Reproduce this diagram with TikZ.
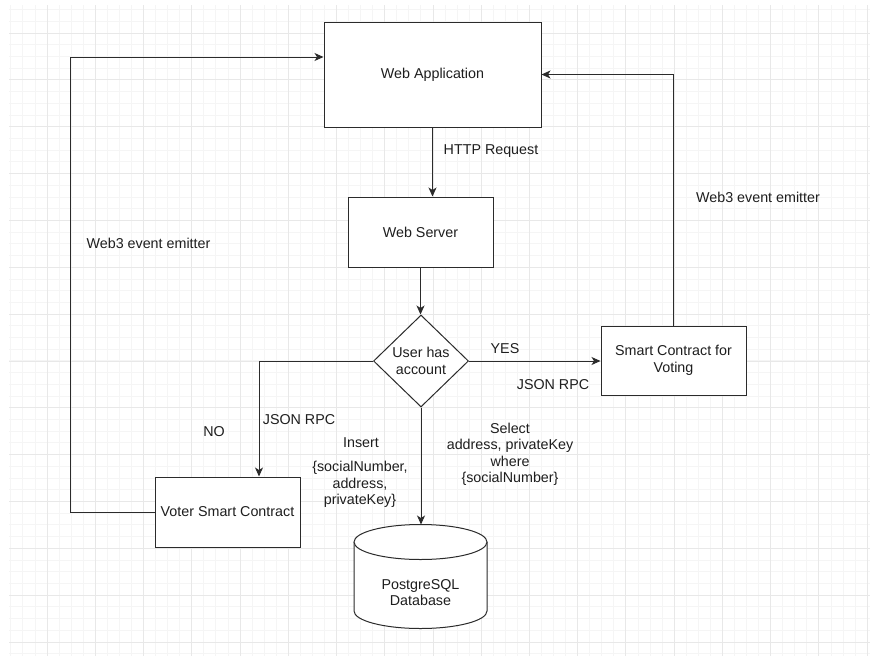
\documentclass[tikz,border=0pt]{standalone}
\usepackage{fontspec}
\setmainfont{Liberation Sans}
\usetikzlibrary{shapes.geometric,arrows.meta}
\definecolor{ln}{HTML}{2B2B2B}
\definecolor{tx}{HTML}{1E1E1E}
\definecolor{gmaj}{HTML}{E8E8E8}
\definecolor{gmin}{HTML}{F5F5F5}
\begin{document}
\begin{tikzpicture}[x=1pt,y=-1pt,
  every node/.style={font=\fontsize{14.3}{16.5}\selectfont, text=tx},
  box/.style={draw=ln, line width=1.0pt, fill=white, inner sep=0pt, align=center},
  dec/.style={diamond, draw=ln, line width=1.0pt, fill=white, inner sep=0pt, align=center, minimum width=95pt, minimum height=92pt},
  lbl/.style={inner sep=0pt, align=center},
  arr/.style={draw=ln, line width=1.0pt, -{Stealth[length=9pt,width=8pt,inset=2.5pt]}},
  minorgrid/.style={draw=gmin, line width=0.8pt},
  majorgrid/.style={draw=gmaj, line width=0.8pt}
]
\useasboundingbox (0,0) rectangle (870,656);
\fill[white] (0,0) rectangle (870,656);
% grid
\foreach \k in {-3,...,68}{\draw[minorgrid] ({47+12.06*\k},5) -- ({47+12.06*\k},656);}
\foreach \k in {-2,...,53}{\draw[minorgrid] (9,{33+11.71*\k}) -- (870,{33+11.71*\k});}
\foreach \k in {0,...,17}{\draw[majorgrid] ({47+48.24*\k},5) -- ({47+48.24*\k},656);}
\foreach \k in {0,...,13}{\draw[majorgrid] (9,{33+46.85*\k}) -- (870,{33+46.85*\k});}

% nodes
\node[box, minimum width=217pt, minimum height=105pt] (webapp) at (432.5,74.5) {Web Application};
\node[box, minimum width=145pt, minimum height=70pt] (webserver) at (420.5,232) {Web Server};
\node[dec] (dec) at (421,361) {User has\\account};
\node[box, minimum width=145pt, minimum height=69pt] (scv) at (673.5,360.5) {Smart Contract for\\Voting};
\node[box, minimum width=145pt, minimum height=70pt] (voter) at (227.5,512) {Voter Smart Contract};

% database cylinder
\draw[draw=ln, line width=1.0pt, fill=white] (354,542) -- (354,611) arc[start angle=180, end angle=360, x radius=66.5pt, y radius=17.5pt] -- (487,542);
\draw[draw=ln, line width=1.0pt, fill=white] (420.5,542) ellipse[x radius=66.5pt, y radius=17.5pt];
\node[lbl] (db) at (420.5,592.5) {PostgreSQL\\Database};
\coordinate (dbtop) at (421,524.5);

% connectors
\draw[arr] (webapp.south) -- (webapp.south |- webserver.north);
\draw[arr] (webserver.south) -- (webserver.south |- dec.north);
\draw[arr] (dec.east) -- (dec.east -| scv.west);
\draw[arr] (dec.west) -| ([xshift=31.5pt]voter.north);
\draw[arr] (dec.south) -- (dbtop);
\draw[arr] (voter.west) -- ++(-84,0) |- ([yshift=17.5pt]webapp.west);
\draw[arr] (scv.north) |- (webapp.east);

% labels
\node[lbl] (lhttp) at (491,151) {HTTP Request};
\node[lbl] (lyes) at (505,349) {YES};
\node[lbl] (ljsonr) at (553,385) {JSON RPC};
\node[lbl] (lweb3r) at (758,197) {Web3 event emitter};
\node[lbl] (lweb3l) at (148.5,243) {Web3 event emitter};
\node[lbl] (lno) at (214,432) {NO};
\node[lbl] (ljsonl) at (299,420) {JSON RPC};
\node[lbl] (lins) at (361,443) {Insert};
\node[lbl] (linsv) at (360,484.5) {\{socialNumber,\\address,\\privateKey\}};
\node[lbl] (lsel) at (510,454.5) {Select\\address, privateKey\\where\\\{socialNumber\}};
\end{tikzpicture}
\end{document}
